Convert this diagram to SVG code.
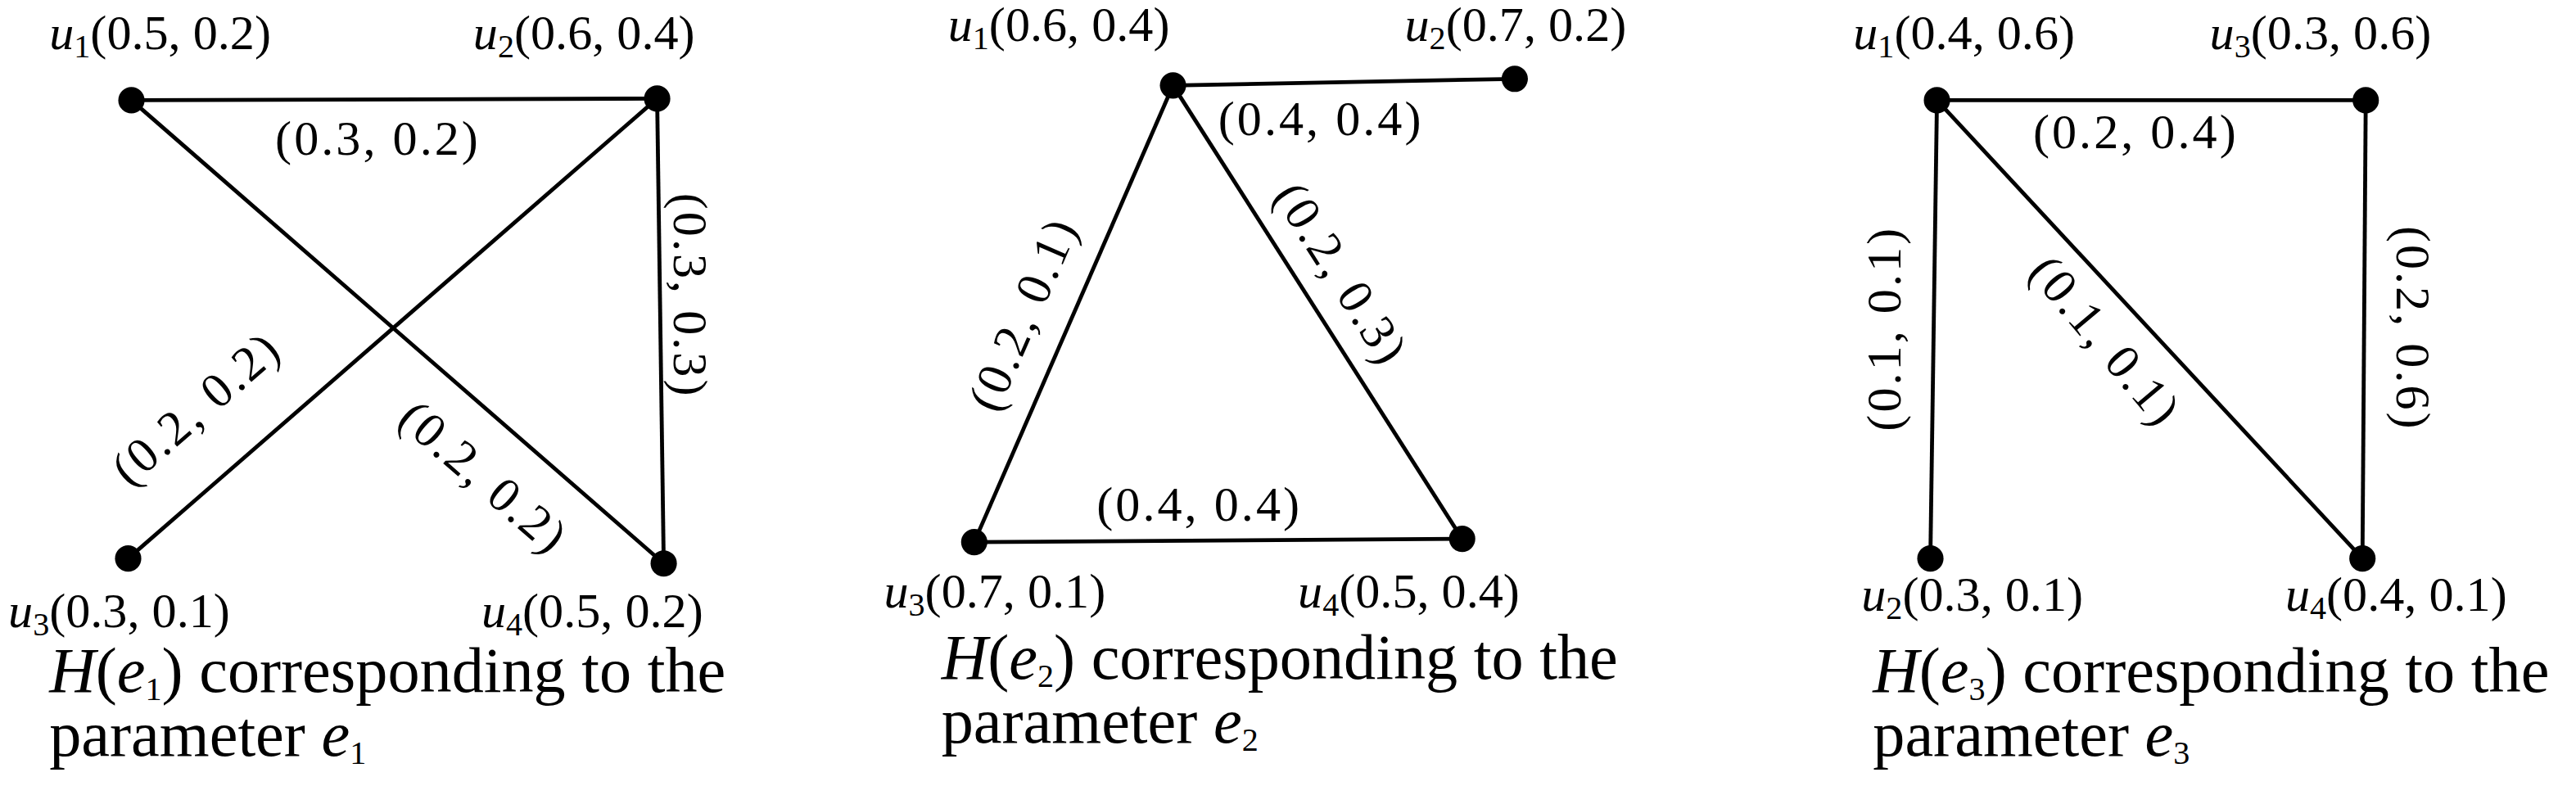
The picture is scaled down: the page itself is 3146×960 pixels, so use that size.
<svg xmlns="http://www.w3.org/2000/svg" width="3146" height="960" viewBox="0 0 3146 960">
<style>
text{font-family:"Liberation Serif","Times New Roman",serif;fill:#000}
.l{font-size:30px}
.e{font-size:30px;letter-spacing:1.5px}
.c{font-size:39px}
.i{font-style:italic}
.s{font-size:20px}
line{stroke:#000;stroke-width:2.4}
circle{fill:#000}
</style>
<rect width="3146" height="960" fill="#fff"/>
<g transform="scale(2.0064)">
<g id="edges">
<line x1="80" y1="61" x2="400" y2="60"/>
<line x1="80" y1="61" x2="404" y2="343"/>
<line x1="400" y1="60" x2="78" y2="340"/>
<line x1="400" y1="60" x2="404" y2="343"/>
<line x1="714" y1="52" x2="922" y2="48"/>
<line x1="714" y1="52" x2="593" y2="330"/>
<line x1="714" y1="52" x2="890" y2="328"/>
<line x1="593" y1="330" x2="890" y2="328"/>
<line x1="1179" y1="61" x2="1440" y2="61"/>
<line x1="1179" y1="61" x2="1175" y2="340"/>
<line x1="1179" y1="61" x2="1438" y2="340"/>
<line x1="1440" y1="61" x2="1438" y2="340"/>
<text class="e" x="230" y="94" text-anchor="middle">(0.3, 0.2)</text>
<text class="e" transform="translate(410,180) rotate(90)" text-anchor="middle">(0.3, 0.3)</text>
<text class="e" transform="translate(126,256) rotate(-41)" text-anchor="middle">(0.2, 0.2)</text>
<text class="e" transform="translate(288,298) rotate(41)" text-anchor="middle">(0.2, 0.2)</text>
<text class="e" x="804" y="82" text-anchor="middle">(0.4, 0.4)</text>
<text class="e" transform="translate(632,195) rotate(-66.5)" text-anchor="middle">(0.2, 0.1)</text>
<text class="e" transform="translate(808,172) rotate(57.5)" text-anchor="middle">(0.2, 0.3)</text>
<text class="e" x="730" y="317" text-anchor="middle">(0.4, 0.4)</text>
<text class="e" x="1300" y="90" text-anchor="middle">(0.2, 0.4)</text>
<text class="e" transform="translate(1157,200) rotate(-90)" text-anchor="middle">(0.1, 0.1)</text>
<text class="e" transform="translate(1459,200) rotate(90)" text-anchor="middle">(0.2, 0.6)</text>
<text class="e" transform="translate(1274,214) rotate(50)" text-anchor="middle">(0.1, 0.1)</text>
</g>
<g id="p1u1"><circle cx="80" cy="61" r="8"/><text class="l" x="30" y="30"><tspan class="i">u</tspan><tspan class="s" dy="5">1</tspan><tspan dy="-5">(0.5, 0.2)</tspan></text></g>
<g id="p1u2"><circle cx="400" cy="60" r="8"/><text class="l" x="288" y="30"><tspan class="i">u</tspan><tspan class="s" dy="5">2</tspan><tspan dy="-5">(0.6, 0.4)</tspan></text></g>
<g id="p1u3"><circle cx="78" cy="340" r="8"/><text class="l" x="5" y="382"><tspan class="i">u</tspan><tspan class="s" dy="5">3</tspan><tspan dy="-5">(0.3, 0.1)</tspan></text></g>
<g id="p1u4"><circle cx="404" cy="343" r="8"/><text class="l" x="293" y="382"><tspan class="i">u</tspan><tspan class="s" dy="5">4</tspan><tspan dy="-5">(0.5, 0.2)</tspan></text></g>
<g id="p2u1"><circle cx="714" cy="52" r="8"/><text class="l" x="577" y="25"><tspan class="i">u</tspan><tspan class="s" dy="5">1</tspan><tspan dy="-5">(0.6, 0.4)</tspan></text></g>
<g id="p2u2"><circle cx="922" cy="48" r="8"/><text class="l" x="855" y="25"><tspan class="i">u</tspan><tspan class="s" dy="5">2</tspan><tspan dy="-5">(0.7, 0.2)</tspan></text></g>
<g id="p2u3"><circle cx="593" cy="330" r="8"/><text class="l" x="538" y="370"><tspan class="i">u</tspan><tspan class="s" dy="5">3</tspan><tspan dy="-5">(0.7, 0.1)</tspan></text></g>
<g id="p2u4"><circle cx="890" cy="328" r="8"/><text class="l" x="790" y="370"><tspan class="i">u</tspan><tspan class="s" dy="5">4</tspan><tspan dy="-5">(0.5, 0.4)</tspan></text></g>
<g id="p3u1"><circle cx="1179" cy="61" r="8"/><text class="l" x="1128" y="30"><tspan class="i">u</tspan><tspan class="s" dy="5">1</tspan><tspan dy="-5">(0.4, 0.6)</tspan></text></g>
<g id="p3u3"><circle cx="1440" cy="61" r="8"/><text class="l" x="1345" y="30"><tspan class="i">u</tspan><tspan class="s" dy="5">3</tspan><tspan dy="-5">(0.3, 0.6)</tspan></text></g>
<g id="p3u2"><circle cx="1175" cy="340" r="8"/><text class="l" x="1133" y="372"><tspan class="i">u</tspan><tspan class="s" dy="5">2</tspan><tspan dy="-5">(0.3, 0.1)</tspan></text></g>
<g id="p3u4"><circle cx="1438" cy="340" r="8"/><text class="l" x="1391" y="372"><tspan class="i">u</tspan><tspan class="s" dy="5">4</tspan><tspan dy="-5">(0.4, 0.1)</tspan></text></g>
<g id="cap1"><text class="c" x="30" y="421"><tspan class="i">H</tspan>(<tspan class="i">e</tspan><tspan class="s" dy="5">1</tspan><tspan dy="-5">) corresponding to the</tspan></text><text class="c" x="30" y="460">parameter <tspan class="i">e</tspan><tspan class="s" dy="5">1</tspan></text></g>
<g id="cap2"><text class="c" x="573" y="413"><tspan class="i">H</tspan>(<tspan class="i">e</tspan><tspan class="s" dy="5">2</tspan><tspan dy="-5">) corresponding to the</tspan></text><text class="c" x="573" y="452">parameter <tspan class="i">e</tspan><tspan class="s" dy="5">2</tspan></text></g>
<g id="cap3"><text class="c" x="1140" y="421"><tspan class="i">H</tspan>(<tspan class="i">e</tspan><tspan class="s" dy="5">3</tspan><tspan dy="-5">) corresponding to the</tspan></text><text class="c" x="1140" y="460">parameter <tspan class="i">e</tspan><tspan class="s" dy="5">3</tspan></text></g>
</g>
</svg>
